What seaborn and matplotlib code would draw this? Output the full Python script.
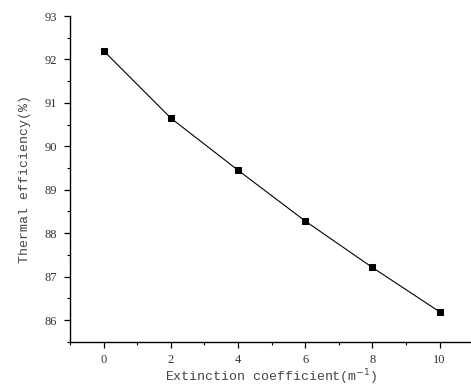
import matplotlib
matplotlib.use("Agg")
import matplotlib.pyplot as plt
from matplotlib.ticker import MultipleLocator
import seaborn as sns
import pandas as pd

# Thermal efficiency versus extinction coefficient
extinction = [0, 2, 4, 6, 8, 10]
efficiency = [92.20, 90.65, 89.45, 88.28, 87.21, 86.19]
x_ticks = [0, 2, 4, 6, 8, 10]
y_ticks = [86, 87, 88, 89, 90, 91, 92, 93]

df = pd.DataFrame({"k": extinction, "eta": efficiency})

sns.set_style("ticks")
plt.rcParams["font.family"] = ["Liberation Serif", "DejaVu Serif"]

fig = plt.figure(figsize=(4.71, 3.91), dpi=100)
ax = fig.add_axes([0.1486, 0.126, 0.856, 0.833])

sns.lineplot(data=df, x="k", y="eta", ax=ax, color="black", linewidth=0.8,
             marker="s", markersize=4.8, markeredgecolor="black",
             markerfacecolor="black")

ax.set_xlim(-1, 11)
ax.set_ylim(85.5, 93)
ax.set_xticks(x_ticks)
ax.set_yticks(y_ticks)
ax.xaxis.set_minor_locator(MultipleLocator(1))
ax.yaxis.set_minor_locator(MultipleLocator(0.5))

for side in ("top", "right"):
    ax.spines[side].set_visible(False)
for side in ("left", "bottom"):
    ax.spines[side].set_linewidth(1.0)
    ax.spines[side].set_color("black")

ax.tick_params(which="major", direction="out", length=4, width=0.9,
               colors="black", labelsize=9, labelcolor="#333333", pad=5)
ax.tick_params(which="minor", direction="out", length=2.5, width=0.8,
               colors="black")

mono = ["Liberation Mono", "DejaVu Sans Mono"]
ax.set_xlabel("Extinction coefficient(m$^{-1}$)", family=mono, fontsize=9.5,
              color="#444444", labelpad=1)
ax.set_ylabel("Thermal efficiency(%)", family=mono, fontsize=9.5,
              color="#444444", labelpad=10)

fig.savefig("out.png", dpi=100)
